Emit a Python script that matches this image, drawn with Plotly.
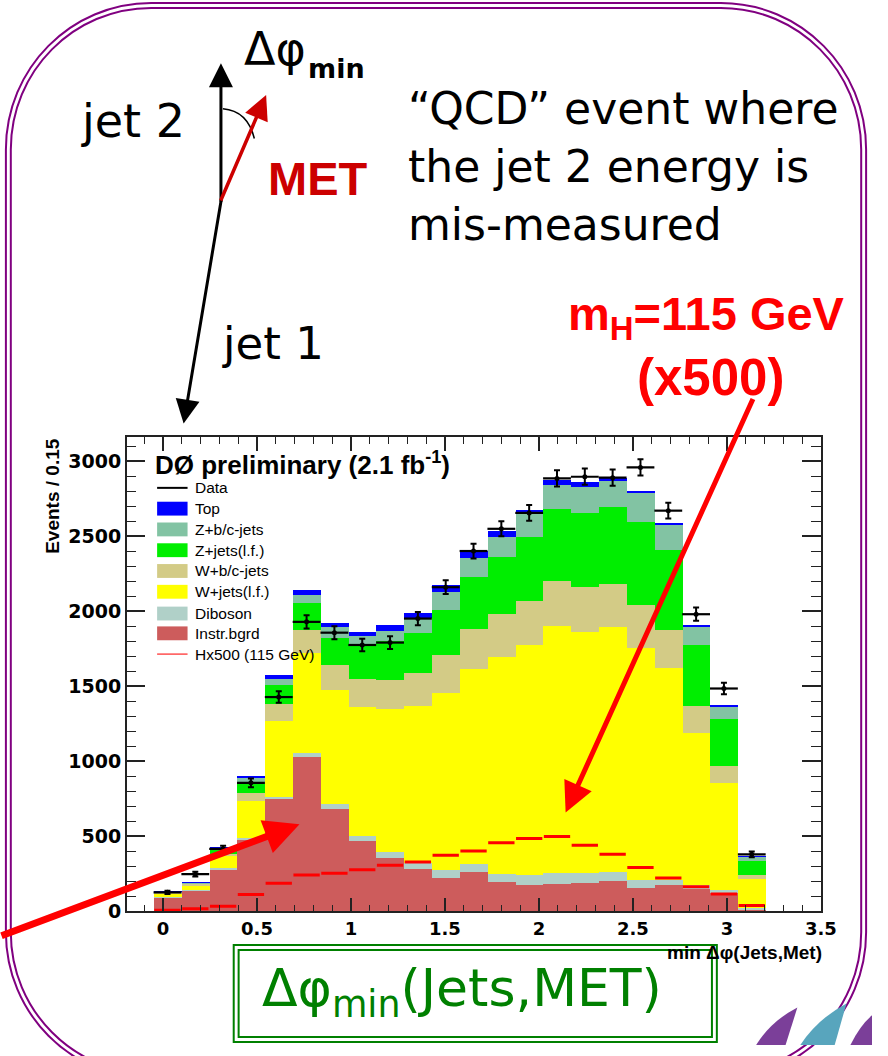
import plotly.graph_objects as go

# ---------------- data ----------------
bin_width = 0.148
bin_centers = [0.024, 0.172, 0.320, 0.468, 0.616, 0.764, 0.912, 1.060, 1.208, 1.356, 1.504,
               1.652, 1.800, 1.948, 2.096, 2.244, 2.392, 2.540, 2.688, 2.836, 2.984, 3.132]

instr_bgrd = [90, 134, 275, 475, 743, 1028, 681, 468, 354, 281, 223,
              259, 193, 171, 182, 187, 200, 154, 171, 150, 121, 12]
diboson = [5, 8, 12, 10, 15, 27, 29, 33, 37, 38, 47,
           55, 55, 66, 71, 66, 59, 50, 38, 20, 17, 5]
w_jets_lf = [20, 30, 80, 247, 506, 665, 762, 857, 956, 1046, 1185,
             1297, 1446, 1538, 1644, 1606, 1633, 1550, 1413, 1019, 714, 198]
w_bc_jets = [5, 8, 12, 55, 116, 154, 165, 187, 193, 224, 251,
             268, 286, 293, 303, 301, 286, 285, 248, 176, 115, 27]
z_jets_lf = [5, 6, 28, 61, 125, 176, 182, 220, 257, 263, 299,
             347, 378, 422, 476, 495, 514, 550, 536, 406, 310, 94]
z_bc_jets = [3, 3, 12, 37, 44, 53, 73, 65, 71, 99, 119,
             127, 136, 153, 161, 171, 176, 193, 167, 125, 85, 25]
top = [1, 1, 3, 14, 24, 35, 26, 29, 39, 37, 50,
       48, 39, 27, 33, 31, 17, 15, 11, 11, 4, 2]

data_counts = [127, 248, 417, 857, 1428, 1929, 1857, 1775, 1791, 1951, 2160,
               2401, 2549, 2655, 2885, 2896, 2890, 2958, 2670, 1980, 1485, 380]
data_errors = [11, 16, 20, 29, 38, 44, 43, 42, 42, 44, 46,
               49, 50, 52, 54, 54, 54, 54, 52, 44, 39, 19]

higgs_x500 = [7, 18, 35, 112, 187, 243, 255, 277, 308, 330, 374,
              402, 457, 486, 499, 440, 380, 292, 222, 165, 116, 40]

series_names = ["Instr.bgrd", "Diboson", "W+jets(l.f.)", "W+b/c-jets",
                "Z+jets(l.f.)", "Z+b/c-jets", "Top"]
series_values = [instr_bgrd, diboson, w_jets_lf, w_bc_jets, z_jets_lf, z_bc_jets, top]
series_colors = ["#cd5c5c", "#b0d0c8", "#ffff00", "#d3cb86", "#00ee00", "#82c3a3", "#0000ff"]

x_tick_values = [0, 0.5, 1, 1.5, 2, 2.5, 3, 3.5]
y_tick_values = [0, 500, 1000, 1500, 2000, 2500, 3000]

# ---------------- figure geometry helpers ----------------
W, H = 888, 1056


def PX(x):
    return x / W


def PY(y):
    return 1 - y / H


fig = go.Figure()

for name, vals, col in zip(series_names, series_values, series_colors):
    fig.add_trace(go.Bar(x=bin_centers, y=vals, width=bin_width, name=name,
                         marker=dict(color=col, line=dict(width=0)),
                         showlegend=False))

# Higgs x500 : one horizontal segment per bin
hx, hy = [], []
for c, v in zip(bin_centers, higgs_x500):
    hx += [c - bin_width / 2 + 0.004, c + bin_width / 2 - 0.004, None]
    hy += [v, v, None]
fig.add_trace(go.Scatter(x=hx, y=hy, mode="lines", line=dict(color="#ff0000", width=3),
                         showlegend=False, hoverinfo="skip"))

# data points
fig.add_trace(go.Scatter(
    x=bin_centers, y=data_counts, mode="markers",
    marker=dict(color="black", size=5),
    error_x=dict(type="constant", value=bin_width / 2, color="black", thickness=2.2, width=0),
    error_y=dict(type="data", array=data_errors, color="black", thickness=2, width=3),
    showlegend=False))

# ---------------- axes ----------------
x0d, x1d = PX(129), PX(836)
y0d, y1d = PY(921), PY(442)
fig.update_layout(
    width=W, height=H, autosize=False, margin=dict(l=0, r=0, t=0, b=0, pad=0),
    paper_bgcolor="white", plot_bgcolor="white",
    barmode="stack", bargap=0,
    xaxis=dict(domain=[x0d, x1d], range=[-0.193, 3.5], tickvals=x_tick_values,
               ticktext=[str(v) for v in x_tick_values],
               showline=True, linecolor="#222", linewidth=1.5, mirror="ticks",
               ticks="inside", ticklen=14, tickwidth=1.5, tickcolor="#222",
               minor=dict(dtick=0.1, tick0=0, ticks="inside", ticklen=7, tickcolor="#222", tickwidth=1.2),
               showgrid=False, zeroline=False,
               tickfont=dict(family="DejaVu Sans", size=18, color="black", weight="bold")),
    yaxis=dict(domain=[y0d, y1d], range=[0, 3158], tickvals=y_tick_values,
               ticktext=[str(v) for v in y_tick_values],
               showline=True, linecolor="#222", linewidth=1.5, mirror="ticks",
               ticks="inside", ticklen=19, tickwidth=1.5, tickcolor="#222",
               minor=dict(dtick=100, tick0=0, ticks="inside", ticklen=10, tickcolor="#222", tickwidth=1.2),
               showgrid=False, zeroline=False,
               tickfont=dict(family="DejaVu Sans", size=19, color="black", weight="bold")),
)

annotations = []
shapes = []


def ann(text, x, y, size, color="black", family="DejaVu Sans", weight="normal",
        xanchor="left", yanchor="middle", angle=0):
    annotations.append(dict(text=text, x=PX(x), y=PY(y), xref="paper", yref="paper",
                            showarrow=False, xanchor=xanchor, yanchor=yanchor,
                            textangle=angle,
                            font=dict(size=size, color=color, family=family, weight=weight)))


def arrow(x_from, y_from, x_to, y_to, color, width, size, head=2):
    annotations.append(dict(text="", x=PX(x_to), y=PY(y_to), xref="paper", yref="paper",
                            ax=x_from - x_to, ay=y_from - y_to, axref="pixel", ayref="pixel",
                            showarrow=True, arrowhead=head, arrowsize=size, arrowwidth=width,
                            arrowcolor=color, standoff=0, startstandoff=0))


def path_px(cmds):
    out = []
    for c in cmds:
        if isinstance(c, str):
            out.append(c)
        else:
            out.append(f"{PX(c[0]):.5f},{PY(c[1]):.5f}")
    return " ".join(out)


def rounded_rect(x0, y0, x1, y1, r):
    k = 0.5523 * r
    cmds = ["M", (x0 + r, y0), "L", (x1 - r, y0),
            "C", (x1 - r + k, y0), (x1, y0 + r - k), (x1, y0 + r),
            "L", (x1, y1 - r),
            "C", (x1, y1 - r + k), (x1 - r + k, y1), (x1 - r, y1),
            "L", (x0 + r, y1),
            "C", (x0 + r - k, y1), (x0, y1 - r + k), (x0, y1 - r),
            "L", (x0, y0 + r),
            "C", (x0, y0 + r - k), (x0 + r - k, y0), (x0 + r, y0), "Z"]
    return path_px(cmds)


# purple double frame
for (a, b, c, d, r) in [(6, 3, 882, 1090, 148), (11, 8, 877, 1085, 143)]:
    shapes.append(dict(type="path", path=rounded_rect(a, b, c, d, r), xref="paper", yref="paper",
                       line=dict(color="#800080", width=2), layer="above"))

# bottom-right decoration
for pts, col in [([(770, 1056), (785, 1032), (812, 1018), (800, 1056)], "#7b3f99"),
                 ([(815, 1056), (832, 1030), (862, 1014), (850, 1056)], "#58a5bd"),
                 ([(866, 1056), (876, 1036), (888, 1026), (888, 1056)], "#7b3f99")]:
    cmds = ["M", pts[0], "Q", pts[1], pts[2], "L", pts[3], "Z"]
    shapes.append(dict(type="path", path=path_px(cmds), xref="paper", yref="paper",
                       fillcolor=col, line=dict(width=0), layer="above"))

# green double box
for (a, b, c, d) in [(238, 955, 730, 1053), (243, 960, 725, 1048)]:
    shapes.append(dict(type="rect", x0=PX(a), x1=PX(c), y0=PY(d), y1=PY(b), xref="paper", yref="paper",
                       line=dict(color="#008000", width=2), layer="above"))

# legend (ROOT style, inside the frame)
legend_rows = [("Data", None, 493), ("Top", "#0000ff", 514), ("Z+b/c-jets", "#82c3a3", 535),
               ("Z+jets(l.f.)", "#00ee00", 556), ("W+b/c-jets", "#d3cb86", 577),
               ("W+jets(l.f.)", "#ffff00", 598), ("Diboson", "#b0d0c8", 620),
               ("Instr.bgrd", "#cd5c5c", 640), ("Hx500 (115 GeV)", "line_red", 661)]
for label, col, yc in legend_rows:
    if col is None:
        shapes.append(dict(type="line", x0=PX(160), x1=PX(191), y0=PY(yc), y1=PY(yc),
                           xref="paper", yref="paper", line=dict(color="black", width=2), layer="above"))
    elif col == "line_red":
        shapes.append(dict(type="line", x0=PX(160), x1=PX(191), y0=PY(yc), y1=PY(yc),
                           xref="paper", yref="paper", line=dict(color="#ff5050", width=1.5), layer="above"))
    else:
        shapes.append(dict(type="rect", x0=PX(160), x1=PX(191), y0=PY(yc + 7), y1=PY(yc - 7),
                           xref="paper", yref="paper", fillcolor=col, line=dict(width=0), layer="above"))
    ann(label, 197, yc, 15.5, family="Liberation Sans")

ann("DØ preliminary (2.1 fb<sup>-1</sup>)", 156, 468, 26, family="Liberation Sans", weight="bold")
ann("Events / 0.15", 54, 501, 19, family="Liberation Sans", weight="bold", xanchor="center", angle=-90)
ann("min Δφ(Jets,Met)", 839, 963, 19, family="Liberation Sans", weight="bold", xanchor="right")

# diagram
shapes.append(dict(type="path", path=path_px(["M", (227, 110), "Q", (252, 112), (259, 140)]),
                   xref="paper", yref="paper", line=dict(color="black", width=1.5), layer="above"))
arrow(225, 204, 225, 64, "black", 3, 1.6)
arrow(225, 202, 187, 428, "black", 3, 1.6)
arrow(225, 203, 271, 96, "#cc0000", 3.5, 1.4)

ann("Δφ", 246, 50, 46)
ann("min", 312, 69, 27, weight="bold")
ann("jet 2", 80, 122, 46)
ann("jet 1", 224, 347, 45)
ann("MET", 271, 180, 47, color="#cc0000", family="Liberation Sans", weight="bold")

ann("“QCD” event where", 413, 110, 44)
ann("the jet 2 energy is", 413, 168, 44)
ann("mis-measured", 413, 227, 44)

ann("m<sub>H</sub>=115 GeV", 576, 320, 47, color="#ff0000", family="Liberation Sans", weight="bold")
ann("(x500)", 724, 381, 51, color="#ff0000", family="Liberation Sans", weight="bold", xanchor="center")

ann("Δφ<sub>min</sub>(Jets,MET)", 470, 1002, 52, color="#008000", xanchor="center")

# red pointer arrows
arrow(-5, 945, 305, 833, "#ff0000", 7, 1.0)
arrow(764, 406, 576, 821, "#ff0000", 5, 1.2)

fig.update_layout(annotations=annotations, shapes=shapes)

fig.write_html(
    "out.html",
    config={"displayModeBar": False, "responsive": False},
    post_script="document.body.style.margin='0';document.body.style.overflow='hidden';",
)
